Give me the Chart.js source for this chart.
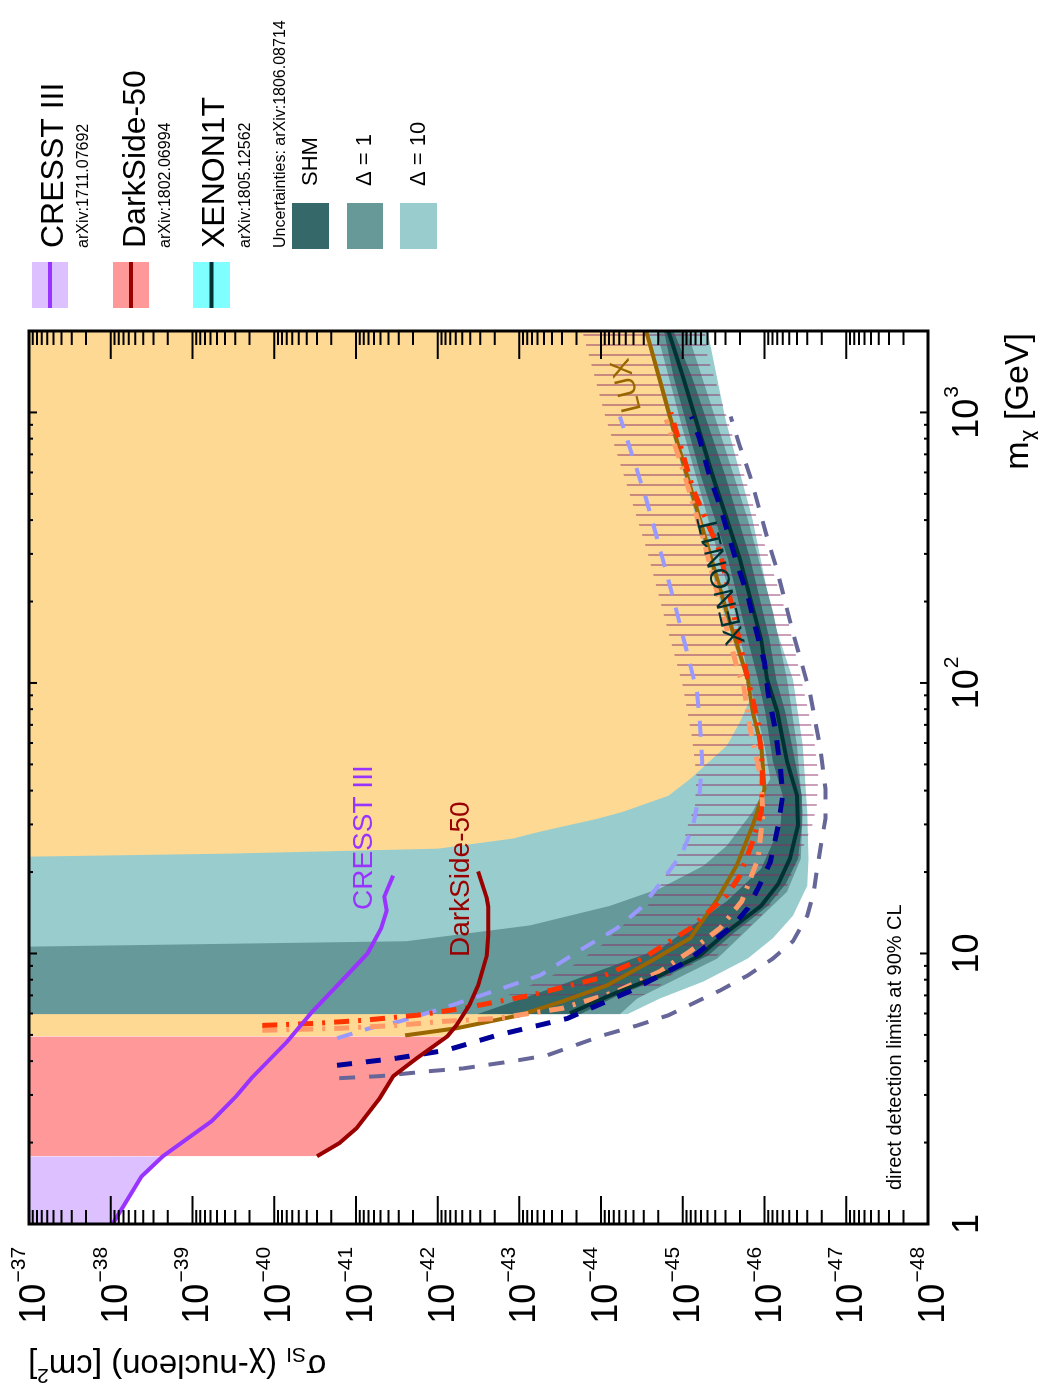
<!DOCTYPE html>
<html>
<head>
<meta charset="utf-8">
<script src="https://cdn.jsdelivr.net/npm/chart.js@4.4.0/dist/chart.umd.min.js"></script>
<style>
html, body { margin: 0; padding: 0; background: #fff; overflow: hidden; }
#wrap { position: absolute; left: 0; top: 0; width: 1390px; height: 1038px;
        transform-origin: 0 0; transform: translate(0px, 1390px) rotate(-90deg); }
</style>
</head>
<body>
<div id="wrap"><canvas id="myChart" width="1390" height="1038"></canvas></div>
<script>
// WIMP mass in GeV, SI cross section in cm^2
const massTicks = [1, 10, 100, 1000];
const sigmaTicks = [1e-48, 1e-47, 1e-46, 1e-45, 1e-44, 1e-43, 1e-42, 1e-41, 1e-40, 1e-39, 1e-38, 1e-37];

const cresstMass  = [1.0, 1.5, 1.78, 2.4, 2.97, 3.46, 4.73, 6.11, 7.75, 10.0, 12.4, 14.4, 16.2, 19.4];
const cresstSigma = [9.5e-39, 4.2e-39, 2.3e-39, 5.8e-40, 2.9e-40, 1.9e-40, 6.9e-41, 3.4e-41, 1.6e-41, 7.2e-42, 4.9e-42, 4.2e-42, 4.5e-42, 3.5e-42];

const darkSideMass  = [1.78, 1.99, 2.26, 2.92, 3.52, 4.10, 4.94, 5.42, 6.43, 7.62, 9.84, 11.65, 14.9, 16.0, 20.1];
const darkSideSigma = [3.0e-41, 1.6e-41, 9.8e-42, 5.1e-42, 3.5e-42, 1.8e-42, 7.6e-43, 5.9e-43, 4.1e-43, 3.2e-43, 2.5e-43, 2.4e-43, 2.4e-43, 2.5e-43, 3.2e-43];

const luxMass  = [4.98, 5.29, 5.91, 6.65, 7.62, 9.34, 11.4, 16.0, 21.1, 29.7, 40.6, 58.6, 78.2, 103, 183, 403, 865, 2000];
const luxSigma = [2.5e-42, 5.9e-43, 1.0e-43, 3.0e-44, 8.5e-45, 2.5e-45, 8.1e-46, 3.7e-46, 2.2e-46, 1.4e-46, 1.0e-46, 1.1e-46, 1.4e-46, 1.6e-46, 2.9e-46, 6.2e-46, 1.3e-45, 2.8e-45];

const xenonMass  = [6.01, 7.00, 8.30, 9.83, 12.0, 15.0, 18.1, 22.4, 29.7, 38.3, 51.1, 78.2, 103, 145, 287, 581, 1358, 2000];
const xenonSigma = [2.4e-44, 7.8e-45, 1.9e-45, 6.2e-46, 2.9e-46, 1.1e-46, 6.8e-47, 4.9e-47, 3.9e-47, 4.0e-47, 5.3e-47, 7.0e-47, 9.3e-47, 1.1e-46, 2.0e-46, 4.3e-46, 1.0e-45, 1.5e-45];

const lightDashMass  = [4.86, 5.29, 5.61, 6.27, 7.24, 8.30, 10.4, 12.4, 14.7, 18.9, 23.8, 29.7, 39.6, 51.1, 71.8, 92.6, 130, 204, 349, 477, 749, 966];
const lightDashSigma = [1.7e-41, 6.8e-42, 2.9e-42, 8.7e-43, 2.1e-43, 5.6e-44, 1.7e-44, 6.4e-45, 3.3e-45, 1.7e-45, 1.0e-45, 7.5e-46, 6.2e-46, 5.8e-46, 6.2e-46, 6.7e-46, 8.9e-46, 1.3e-45, 2.1e-45, 2.8e-45, 4.5e-45, 5.9e-45];

const navyDashMass  = [3.86, 4.10, 4.39, 4.98, 5.75, 7.24, 9.34, 11.1, 12.7, 14.7, 17.4, 21.8, 29.7, 38.3, 48.2, 67.6, 92.6, 119, 162, 209, 279, 450, 581, 795, 966];
const navyDashSigma = [1.7e-41, 3.2e-42, 7.8e-43, 1.9e-43, 2.6e-44, 4.5e-45, 8.9e-46, 4.3e-46, 2.4e-46, 1.6e-46, 1.2e-46, 8.5e-47, 6.8e-47, 6.0e-47, 6.4e-47, 7.4e-47, 9.1e-47, 1.0e-46, 1.3e-46, 1.6e-46, 2.2e-46, 3.5e-46, 4.7e-46, 6.2e-46, 7.8e-46];

const greyDashMass  = [3.46, 3.52, 3.67, 3.76, 4.00, 4.20, 4.98, 5.42, 5.91, 6.54, 7.30, 8.30, 9.58, 11.1, 13.8, 16.9, 21.9, 31.5, 40.6, 58.6, 92.6, 154, 264, 349, 581, 749, 966];
const greyDashSigma = [1.6e-41, 5.1e-42, 1.3e-42, 4.9e-43, 1.2e-43, 4.6e-44, 9.5e-45, 3.6e-45, 1.5e-45, 7.5e-46, 3.5e-46, 1.6e-46, 7.9e-47, 4.5e-47, 3.0e-47, 2.5e-47, 2.2e-47, 1.8e-47, 1.8e-47, 2.1e-47, 2.8e-47, 4.5e-47, 7.1e-47, 9.4e-47, 1.5e-46, 2.0e-46, 2.6e-46];

const redDotMass  = [5.42, 5.52, 5.66, 5.91, 6.27, 7.00, 8.08, 9.58, 12.4, 16.4, 19.4, 25.9, 33.4, 40.6, 51.1, 71.8, 103, 304, 520, 1000];
const redDotSigma = [1.4e-40, 3.0e-41, 8.3e-42, 1.8e-42, 4.9e-43, 7.4e-44, 1.1e-44, 3.1e-45, 8.1e-46, 2.9e-46, 2.0e-46, 1.4e-46, 1.1e-46, 1.07e-46, 1.07e-46, 1.2e-46, 1.6e-46, 3.5e-46, 7.5e-46, 1.4e-45];

const salmonDotMass  = [5.20, 5.29, 5.42, 5.61, 5.75, 6.27, 7.24, 8.58, 10.2, 12.4, 15.6, 22.4, 32.3, 44.2, 67.6, 97.5, 110, 183, 340, 617, 942];
const salmonDotSigma = [1.4e-40, 1.6e-41, 3.2e-42, 8.7e-43, 1.9e-43, 3.0e-44, 6.4e-45, 1.9e-45, 8.1e-46, 3.5e-46, 1.9e-46, 1.2e-46, 1.05e-46, 1.1e-46, 1.5e-46, 1.8e-46, 2.1e-46, 3.3e-46, 5.6e-46, 1.0e-45, 1.6e-45];

// XENON1T uncertainty bands: upper and lower edges
const d10UpMass  = [5.96, 22.8, 23.4, 24.4, 26.6, 28.2, 31.5, 33.4, 38.3, 44.2, 58.6, 71.8, 85.1, 103, 183, 403, 865, 2000];
const d10UpSigma = [1e-37, 1e-37, 3.5e-40, 1.0e-42, 1.2e-43, 5.6e-44, 1.1e-44, 5.4e-45, 1.5e-45, 8.1e-46, 2.9e-46, 2.0e-46, 1.55e-46, 1.7e-46, 3.2e-46, 6.8e-46, 1.4e-45, 2.9e-45];
const d10LoMass  = [5.96, 6.82, 7.88, 9.58, 11.4, 13.8, 17.8, 22.4, 33.4, 58.6, 103, 172, 403, 942, 2000];
const d10LoSigma = [4.8e-45, 1.9e-45, 5.6e-46, 1.6e-46, 7.9e-47, 4.5e-47, 3.0e-47, 2.9e-47, 3.0e-47, 3.4e-47, 4.5e-47, 7.9e-47, 1.4e-46, 3.0e-46, 5.0e-46];

const d1UpMass  = [5.96, 10.6, 11.1, 12.7, 15.0, 17.4, 21.1, 25.0, 33.4, 44.2, 58.6, 103, 183, 403, 865, 2000];
const d1UpSigma = [1e-37, 1e-37, 2.4e-42, 7.4e-44, 7.8e-45, 1.9e-45, 5.6e-46, 2.9e-46, 1.4e-46, 8.5e-47, 1.0e-46, 1.55e-46, 2.3e-46, 4.9e-46, 1.0e-45, 2.1e-45];
const d1LoMass  = [5.96, 6.82, 9.58, 16.9, 22.4, 33.4, 58.6, 103, 183, 403, 865, 2000];
const d1LoSigma = [5.9e-45, 3.6e-45, 3.8e-46, 5.3e-47, 3.6e-47, 3.4e-47, 4.0e-47, 5.3e-47, 7.9e-47, 1.6e-46, 3.6e-46, 8.9e-46];

const shmUpMass  = [5.96, 7.62, 8.44, 10.4, 15.6, 20.6, 29.7, 38.3, 51.1, 78.2, 103, 145, 287, 581, 1358, 2000];
const shmUpSigma = [3.3e-43, 3.2e-44, 1.3e-44, 1.9e-45, 2.9e-46, 1.1e-46, 6.4e-47, 6.0e-47, 7.9e-47, 9.8e-47, 1.2e-46, 1.6e-46, 2.8e-46, 6.0e-46, 1.3e-45, 1.7e-45];
const shmLoMass  = [5.96, 7.00, 8.30, 9.83, 12.0, 15.0, 18.1, 22.4, 29.7, 38.3, 51.1, 78.2, 103, 145, 287, 581, 1358, 2000];
const shmLoSigma = [1.8e-44, 6.2e-45, 1.5e-45, 4.9e-46, 2.3e-46, 9.1e-47, 5.5e-47, 3.9e-47, 3.5e-47, 3.5e-47, 4.2e-47, 5.6e-47, 7.2e-47, 8.7e-47, 1.5e-46, 3.0e-46, 7.8e-46, 1.3e-45];

// hatched band
const hatchUpMass  = [7.00, 8.30, 9.03, 10.7, 12.7, 15.0, 17.8, 21.1, 25.0, 29.7, 35.2, 45.4, 63.7, 97.5, 177, 304, 533, 966, 1610, 2000];
const hatchUpSigma = [1.4e-43, 3.9e-44, 2.2e-44, 1.0e-44, 5.4e-45, 2.7e-45, 1.9e-45, 1.4e-45, 1.0e-45, 8.7e-46, 7.1e-46, 6.8e-46, 7.8e-46, 1.0e-45, 1.7e-45, 2.7e-45, 4.8e-45, 8.9e-45, 1.4e-44, 1.7e-44];
const hatchLoMass  = [7.00, 7.62, 8.30, 9.03, 9.83, 10.7, 11.7, 13.8, 16.4, 17.8, 21.1, 29.7, 35.2, 45.4, 63.7, 97.5, 177, 304, 533, 966, 1610, 2000];
const hatchLoSigma = [3.1e-45, 1.9e-45, 1.4e-45, 8.1e-46, 3.8e-46, 2.9e-46, 2.0e-46, 1.1e-46, 6.8e-47, 5.3e-47, 4.2e-47, 2.6e-47, 2.3e-47, 2.2e-47, 2.5e-47, 3.4e-47, 5.3e-47, 9.3e-47, 1.6e-46, 2.9e-46, 5.0e-46, 5.4e-46];

const FONT = '"Liberation Sans", Arial, sans-serif';

function pts(ms, ss) {
    return ms.map((m, i) => ({ x: m, y: ss[i] }));
}

const datasets = [];

function addLine(ms, ss, color, width, dash, order) {
    datasets.push({
        data: pts(ms, ss), borderColor: color, borderWidth: width, borderDash: dash,
        pointRadius: 0, fill: false, order: order
    });
}

function addFillToTop(data, color, order) {
    datasets.push({
        data: data, borderColor: 'rgba(0,0,0,0)', borderWidth: 0, pointRadius: 0,
        backgroundColor: color, fill: 'end', order: order
    });
}

function addBand(upM, upS, loM, loS, color, order) {
    const lo = datasets.length;
    datasets.push({ data: pts(loM, loS), borderColor: 'rgba(0,0,0,0)', borderWidth: 0, pointRadius: 0, fill: false, order: order });
    datasets.push({ data: pts(upM, upS), borderColor: 'rgba(0,0,0,0)', borderWidth: 0, pointRadius: 0,
                    backgroundColor: color, fill: { target: lo }, order: order });
}

const canvas = document.getElementById('myChart');
const ctx0 = canvas.getContext('2d');

// vertical hatch lines
const tile = document.createElement('canvas');
tile.width = 10; tile.height = 10;
const tctx = tile.getContext('2d');
tctx.fillStyle = 'rgba(140,40,100,0.45)';
tctx.fillRect(4, 0, 2, 10);
const hatch = ctx0.createPattern(tile, 'repeat');

// filled exclusion regions
const cresstPts = pts(cresstMass, cresstSigma).filter(p => p.x <= 1.78);
const darkSidePts = pts(darkSideMass, darkSideSigma).filter(p => p.x <= 4.94);
const orangePts = [{ x: darkSideMass[6], y: darkSideSigma[6] }].concat(pts(luxMass, luxSigma).slice(1));

addFillToTop(orangePts, '#fdd994', 50);
addFillToTop(darkSidePts, '#ff9999', 50);
addFillToTop(cresstPts, '#dcc0ff', 50);
addBand(d10UpMass, d10UpSigma, d10LoMass, d10LoSigma, '#99cccc', 40);
addBand(d1UpMass, d1UpSigma, d1LoMass, d1LoSigma, '#669999', 39);
addBand(shmUpMass, shmUpSigma, shmLoMass, shmLoSigma, '#356868', 38);
addBand(hatchUpMass, hatchUpSigma, hatchLoMass, hatchLoSigma, hatch, 30);

addLine(lightDashMass, lightDashSigma, '#9999ff', 4, [16, 13], 12);
addLine(luxMass, luxSigma, '#996600', 4, [], 11);
addLine(salmonDotMass, salmonDotSigma, '#ff9966', 5, [15, 9, 3, 9], 10);
addLine(redDotMass, redDotSigma, '#ff3300', 5, [15, 9, 3, 9], 9);
addLine(xenonMass, xenonSigma, '#003333', 4, [], 8);
addLine(greyDashMass, greyDashSigma, '#666699', 4, [16, 14], 7);
addLine(navyDashMass, navyDashSigma, '#000099', 5, [15, 14], 6);
addLine(darkSideMass, darkSideSigma, '#990000', 4, [], 3);
addLine(cresstMass, cresstSigma, '#9933ff', 4, [], 2);

function richText(ctx, parts, u, v, angle, alignEnd) {
    ctx.save();
    ctx.translate(u, v);
    if (angle) ctx.rotate(angle);
    ctx.textAlign = 'left';
    ctx.textBaseline = 'alphabetic';
    let w = 0;
    parts.forEach(p => { ctx.font = p[1] + 'px ' + FONT; w += ctx.measureText(p[0]).width; });
    let cx = alignEnd ? -w : 0;
    parts.forEach(p => {
        ctx.font = p[1] + 'px ' + FONT;
        ctx.fillStyle = p[3] || '#000';
        ctx.fillText(p[0], cx, p[2]);
        cx += ctx.measureText(p[0]).width;
    });
    ctx.restore();
}

function text(ctx, s, u, v, size, color, angle) {
    richText(ctx, [[s, size, 0, color]], u, v, angle, false);
}

// "10" with a raised exponent, as in the tick labels
function powerLabel(ctx, value, u, v, anchorRight) {
    const e = Math.round(Math.log10(value));
    const base = e === 0 ? '1' : '10';
    const ex = (e === 0 || e === 1) ? '' : String(e).replace('-', '\u2212');
    ctx.font = '36px ' + FONT;
    const wb = ctx.measureText(base).width;
    ctx.font = '21px ' + FONT;
    const we = ex ? ctx.measureText(ex).width + 1 : 0;
    const start = anchorRight ? u - wb - we : u - (wb + we) / 2;
    richText(ctx, [[base, 36, 0], [ex ? ' ' : '', 4, 0], [ex, 21, -20]], start, v, 0, false);
}

const decor = {
    id: 'decor',
    afterDraw(chart) {
        const ctx = chart.ctx;
        const a = chart.chartArea;
        const x = chart.scales.x, y = chart.scales.y;
        ctx.save();

        // inner tick marks on all four sides
        ctx.strokeStyle = '#000';
        ctx.lineWidth = 2;
        ctx.beginPath();
        for (let e = -48; e < -37; e++) {
            for (let k = 1; k <= 9; k++) {
                const py = y.getPixelForValue(k * Math.pow(10, e));
                const len = k === 1 ? 28 : 14;
                ctx.moveTo(a.left, py); ctx.lineTo(a.left + len, py);
                ctx.moveTo(a.right, py); ctx.lineTo(a.right - len, py);
            }
        }
        for (let e = 0; e <= 3; e++) {
            for (let k = 1; k <= 9; k++) {
                const v = k * Math.pow(10, e);
                if (v > 2000) break;
                const px = x.getPixelForValue(v);
                const len = k === 1 ? 8 : 4;
                ctx.moveTo(px, a.bottom); ctx.lineTo(px, a.bottom - len);
                ctx.moveTo(px, a.top); ctx.lineTo(px, a.top + len);
            }
        }
        ctx.stroke();
        ctx.lineWidth = 3;
        ctx.strokeRect(a.left, a.top, a.right - a.left, a.bottom - a.top);

        // tick labels from the scales
        sigmaTicks.forEach(v => powerLabel(ctx, v, 143, y.getPixelForValue(v) + 16, true));
        massTicks.forEach(v => powerLabel(ctx, v, x.getPixelForValue(v), 978, false));

        // axis titles
        richText(ctx, [['m', 34, 0], ['\u03C7', 23, 8], [' [GeV]', 34, 0]], 1057, 1028, 0, true);
        richText(ctx, [['\u03C3', 33, 0], ['SI', 21, 7], [' (\u03C7-nucleon) [cm', 33, 0], ['2', 21, -14], [']', 33, 0]],
                 35, 28, -Math.PI / 2, true);

        // labels inside the plot
        text(ctx, 'CRESST III', 480, 372, 28, '#9933ff');
        text(ctx, 'DarkSide-50', 433, 469, 28, '#990000');
        text(ctx, 'LUX', 980, 641, 28, '#996600', -0.24);
        text(ctx, 'XENON1T', 747, 745, 28, '#003333', -0.23);
        text(ctx, 'direct detection limits at 90% CL', 200, 901, 20, '#000');

        // legend
        const rows = [
            ['CRESST III', 'arXiv:1711.07692', '#dcc0ff', '#9933ff', 32, 68, 63, 88],
            ['DarkSide-50', 'arXiv:1802.06994', '#ff9999', '#990000', 113, 149, 145, 170],
            ['XENON1T', 'arXiv:1805.12562', '#7fffff', '#003333', 193, 230, 224, 250]
        ];
        rows.forEach(r => {
            ctx.fillStyle = r[2];
            ctx.fillRect(1082, r[4], 46, r[5] - r[4]);
            ctx.strokeStyle = r[3];
            ctx.lineWidth = 4;
            ctx.beginPath();
            ctx.moveTo(1082, (r[4] + r[5]) / 2);
            ctx.lineTo(1128, (r[4] + r[5]) / 2);
            ctx.stroke();
            text(ctx, r[0], 1142, r[6], 32, '#000');
            text(ctx, r[1], 1142, r[7], 16, '#000');
        });
        text(ctx, 'Uncertainties: arXiv:1806.08714', 1142, 285, 16, '#000');
        const boxes = [['SHM', '#356868', 292, 329], ['\u0394 = 1', '#689999', 347, 383], ['\u0394 = 10', '#99cccc', 400, 437]];
        boxes.forEach(b => {
            ctx.fillStyle = b[1];
            ctx.fillRect(1141, b[2], 46, b[3] - b[2]);
            ctx.save();
            ctx.font = '22px ' + FONT;
            ctx.fillStyle = '#000';
            ctx.textBaseline = 'middle';
            ctx.fillText(b[0], 1204, (b[2] + b[3]) / 2);
            ctx.restore();
        });
        ctx.restore();
    }
};

let myChart;

function initChart() {
    Chart.defaults.font.family = FONT;
    Chart.defaults.color = '#000';
    myChart = new Chart(ctx0, {
        type: 'line',
        data: { datasets: datasets },
        options: {
            responsive: false,
            animation: false,
            events: [],
            layout: { padding: { left: 0, right: 331, top: 29, bottom: 0 } },
            plugins: { legend: { display: false }, tooltip: { enabled: false }, filler: { propagate: false } },
            elements: { line: { tension: 0 }, point: { radius: 0 } },
            scales: {
                x: {
                    type: 'logarithmic', min: 1, max: 2000,
                    grid: { display: false, drawTicks: false }, border: { display: false },
                    ticks: { display: false },
                    afterBuildTicks: s => { s.ticks = massTicks.map(v => ({ value: v })); },
                    afterFit: s => { s.height = 110; s.paddingLeft = 0; s.paddingRight = 0; }
                },
                y: {
                    type: 'logarithmic', min: 1e-48, max: 1e-37,
                    grid: { display: false, drawTicks: false }, border: { display: false },
                    ticks: { display: false },
                    afterBuildTicks: s => { s.ticks = sigmaTicks.map(v => ({ value: v })); },
                    afterFit: s => { s.width = 166; s.paddingTop = 0; s.paddingBottom = 0; }
                }
            }
        },
        plugins: [decor]
    });
}

document.addEventListener('DOMContentLoaded', () => {
    initChart();
});
</script>
</body>
</html>
